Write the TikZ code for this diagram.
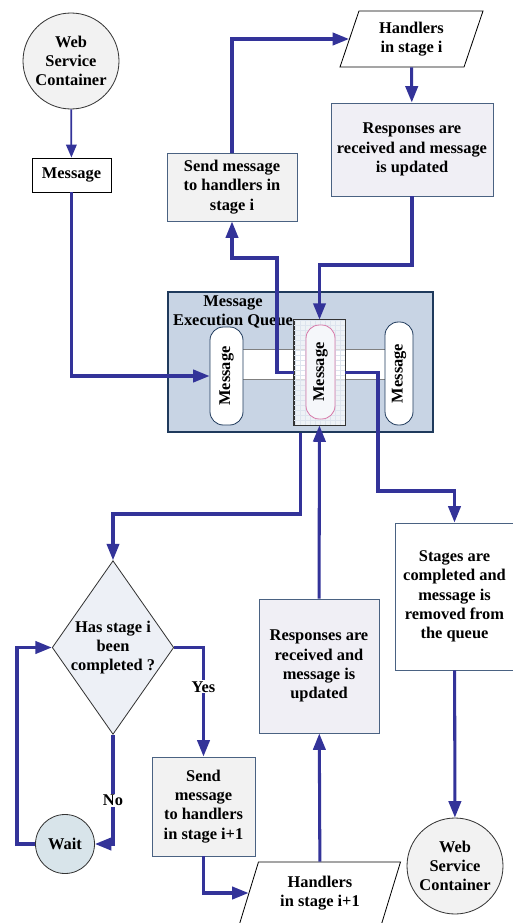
\documentclass[tikz,border=0pt]{standalone}
\usepackage{fontspec}
\usepackage{graphicx}
\setmainfont{Liberation Serif}
\usetikzlibrary{arrows.meta,shapes.geometric}
\definecolor{flowblue}{HTML}{333399}
\definecolor{edgegray}{HTML}{4A6282}
\definecolor{queuefill}{HTML}{C8D4E4}
\definecolor{queueline}{HTML}{1F3A5C}
\definecolor{boxgray}{HTML}{F2F2F2}
\definecolor{lavender}{HTML}{F0EFF5}
\definecolor{diamfill}{HTML}{EDF0F6}
\definecolor{waitfill}{HTML}{D8E4EA}
\definecolor{pinkline}{HTML}{D678A8}
\definecolor{gridline}{HTML}{DDE4EE}
\begin{document}
\begin{tikzpicture}[>={Triangle[length=14pt,width=10.5pt]},x=0.03cm,y=-0.03cm,
		txt/.style={font=\fontsize{14}{16.4}\selectfont\bfseries,align=center},
		boxdim/.style 2 args={minimum width=#1*0.03cm,minimum height=#2*0.03cm},
		box/.style={txt,draw=edgegray,line width=0.8pt,inner sep=0pt},
		wsc/.style={txt,circle,draw=black!80,fill=boxgray,line width=0.7pt,inner sep=0pt,minimum size=96*0.03cm},
		handler/.style={txt,trapezium,trapezium left angle=61,trapezium right angle=119,trapezium stretches body,draw=black,line width=0.7pt,inner sep=0pt},
		pill/.style={txt,draw=queueline,fill=white,line width=0.7pt,rounded corners=0.4cm,inner sep=0pt},
		flow/.style={draw=flowblue,line width=2.6pt},
		tag/.style={txt,fill=white,inner sep=1pt}]
		\useasboundingbox (0,0) rectangle (513,923);
		\node[wsc] (wsc1) at (71,61) {Web\\Service\\Container};
		\node[box,draw=black,fill=white,boxdim={79}{34}] (msg) at (71.5,175) {Message};
		\node[box,fill=boxgray,boxdim={130}{68}] (send1) at (232,187) {Send message\\to handlers in\\stage i};
		\node[handler,fill=white,boxdim={143}{56}] (hand1) at (411.5,39) {Handlers\\in stage i};
		\node[box,fill=lavender,boxdim={162}{93}] (resp1) at (412,149.5) {Responses are\\received and message\\is updated};
		\node[draw=queueline,fill=queuefill,line width=2.4pt,boxdim={265}{140}] (queue) at (300.5,362) {};
		\node[fill=white,inner sep=0pt,boxdim={143}{29}] (band) at (313.5,364.5) {};
		\draw[gray,line width=0.8pt] (band.north west) -- (band.north east) (band.south west) -- (band.south east);
		\node[pill,boxdim={33}{98}] (pillL) at (226.5,376) {\rotatebox{90}{Message}};
		\node[pill,boxdim={28}{103}] (pillR) at (399,373.5) {\rotatebox{90}{Message}};
		\node[draw=black!80,fill=white,fill opacity=0.7,line width=0.6pt,inner sep=0pt,boxdim={51}{105}] (cbox) at (319.5,372.5) {};
		\draw[gridline,line width=0.2pt,step=0.15cm] (cbox.south west) grid (cbox.north east);
		\draw[black!80,line width=0.6pt] (cbox.south west) rectangle (cbox.north east);
		\node[pill,draw=pinkline,fill=white!70!gridline,boxdim={29}{94}] (pillC) at (320.5,372) {\rotatebox{90}{Message}};
		\node[txt] (qlabel) at (233,312) {Message\\Execution Queue};
		\node[txt,diamond,draw=black!80,fill=diamfill,line width=0.7pt,inner sep=0pt,aspect=0.7,boxdim={120}{171}] (diam) at (113,647.5) {Has stage i\\been\\completed ?};
		\node[txt,circle,draw=black!80,fill=waitfill,line width=0.7pt,inner sep=0pt,minimum size=59*0.03cm] (wait) at (65,844) {Wait};
		\node[box,fill=boxgray,boxdim={103}{99}] (send2) at (203.5,806.5) {Send\\message\\to handlers\\in stage i+1};
		\node[box,fill=lavender,boxdim={120}{134}] (resp2) at (319,666) {Responses are\\received and\\message is\\updated};
		\node[handler,fill=white,boxdim={161}{62}] (hand2) at (320,893) {Handlers\\in stage i+1};
		\node[box,fill=white,boxdim={119}{147}] (stages) at (454.5,596.5) {Stages are\\completed and\\message is\\removed from\\the queue};
		\node[wsc] (wsc2) at (455,866) {Web\\Service\\Container};
		\coordinate (b1) at (277,258);
		\coordinate (b2) at (319.5,265);
		\coordinate (b3) at (378,491);
		\coordinate (b4) at (300.5,514);
		\coordinate (b5) at (17,844);
		\draw[flow,line width=1.5pt,>={Triangle[length=11pt,width=9pt]},->] (wsc1) -- (msg);
		\draw[flow,->] (msg) |- (pillL);
		\draw[flow,->] (cbox.west) -| (b1) -| (send1);
		\draw[flow,->] (send1) |- (hand1);
		\draw[flow,->] (hand1) -- (resp1);
		\draw[flow,->] (resp1) |- (b2) -- (cbox);
		\draw[flow,->] (cbox.east) -| (b3) -| (stages);
		\draw[flow,->] (queue.south) -- (b4) -| (diam);
		\draw[flow,->] (resp2) -- (cbox);
		\draw[flow,->] (stages) -- (wsc2);
		\draw[flow,->] (diam) -| node[tag,pos=0.68] {Yes} (send2);
		\draw[flow,->] (diam) |- node[tag,pos=0.3] {No} (wait);
		\draw[flow,->] (wait) -- (b5) |- (diam);
		\draw[flow,->] (send2) |- (hand2);
		\draw[flow,->] (hand2) -- (resp2);
\end{tikzpicture}
\end{document}
